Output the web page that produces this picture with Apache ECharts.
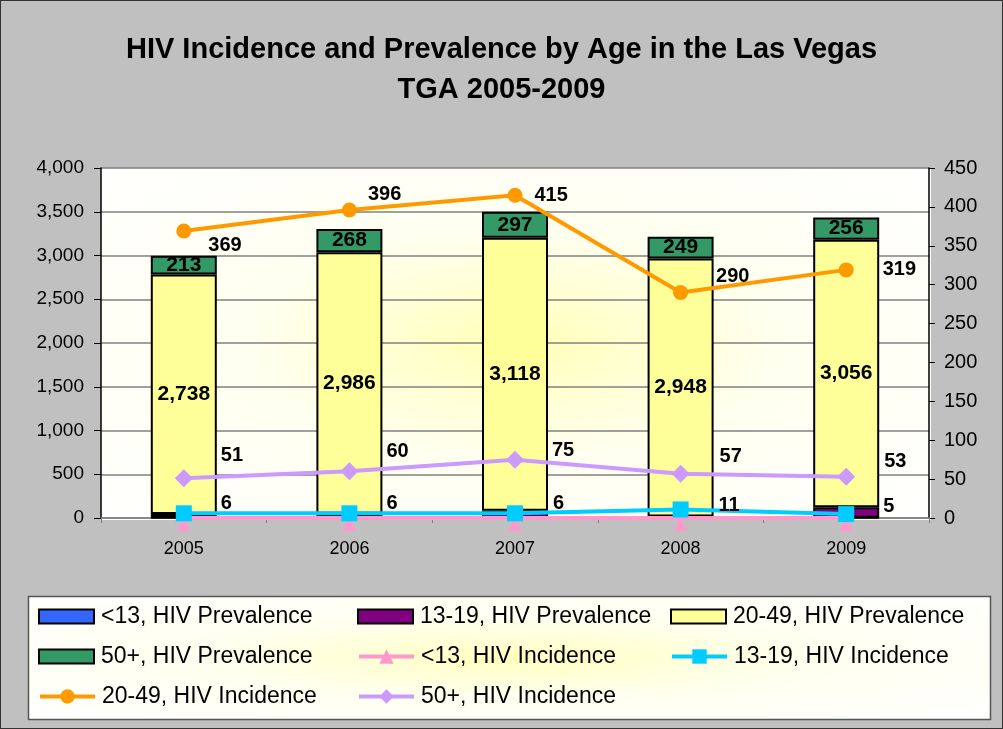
<!DOCTYPE html>
<html>
<head>
<meta charset="utf-8">
<script src="https://cdn.jsdelivr.net/npm/echarts@6/dist/echarts.min.js"></script>
<style>
  html, body { margin: 0; padding: 0; background: #fff; }
  #chart-container { width: 1001px; height: 727px; border: 1px solid #333; }
</style>
</head>
<body>
<div id="chart-container"></div>
<script>
var years = ['2005', '2006', '2007', '2008', '2009'];

// prevalence (left axis, stacked bars)
var prevUnder13 = [5, 5, 4, 3, 3];
var prev13to19 = [40, 45, 80, 15, 120];
var prev20to49 = [2738, 2986, 3118, 2948, 3056];
var prev50plus = [213, 268, 297, 249, 256];

// incidence (right axis, lines)
var incUnder13 = [0, 0, 0, 0, 0];
var inc13to19 = [6, 6, 6, 11, 5];
var inc20to49 = [369, 396, 415, 290, 319];
var inc50plus = [51, 60, 75, 57, 53];

var leftTicks = { min: 0, max: 4000, interval: 500 };
var rightTicks = { min: 0, max: 450, interval: 50 };

var dom = document.getElementById('chart-container');
var myChart = echarts.init(dom, null, { renderer: 'canvas' });

var FONT = '"Liberation Sans", Arial, sans-serif';

// plot area box (matches grid below)
var plot = { left: 100, top: 167, right: 930, bottom: 519 };

var barLabel = {
  show: true,
  position: 'inside',
  color: '#000',
  fontFamily: FONT,
  fontWeight: 'bold',
  fontSize: 21,
  formatter: function (p) { return p.value.toLocaleString('en-US'); }
};

var lineLabel = {
  show: true,
  position: 'right',
  distance: 0,
  color: '#000',
  fontFamily: FONT,
  fontWeight: 'bold',
  fontSize: 20
};

// label nudges per point, so they sit like in the original
function withOffsets(values, offsets) {
  return values.map(function (v, i) {
    return { value: v, label: { offset: offsets[i] } };
  });
}

var offs13to19 = [[29, -10], [29, -10], [30, -10], [30, -4], [29, -8]];
var offs20to49 = [[17, 14], [11, -16], [12, 0], [28, -16], [29, 0]];
var offs50plus = [[28, -23], [28, -20], [28, -9], [30, -17], [29, -15]];

var legendNames = [
  '<13, HIV Prevalence', '13-19, HIV Prevalence', '20-49, HIV Prevalence',
  '50+, HIV Prevalence', '<13, HIV Incidence', '13-19, HIV Incidence',
  '20-49, HIV Incidence', '50+, HIV Incidence'
];
var colX = [37, 356, 669];
var rowY = [604, 644, 684];

var legends = legendNames.map(function (n, i) {
  var isBar = i < 4;
  return {
    data: [isBar ? { name: n, icon: 'rect' } : n],
    left: colX[i % 3],
    top: rowY[Math.floor(i / 3)],
    padding: 0,
    itemWidth: 55,
    itemHeight: isBar ? 14 : 18,
    itemStyle: isBar ? { borderColor: '#000', borderWidth: 2 } : {},
    lineStyle: { width: 4 },
    textStyle: { fontFamily: FONT, fontSize: 23, color: '#000', padding: [0, 0, 0, 2] },
    selectedMode: false
  };
});

// elliptical glow: square rect scaled vertically
function glowRect(x, y, w, h, inner) {
  return {
    type: 'rect',
    x: x, y: y,
    scaleY: h / w,
    shape: { x: 0, y: 0, width: w, height: w },
    style: {
      fill: new echarts.graphic.RadialGradient(0.5, 0.5, 0.72, [
        { offset: 0, color: inner }, { offset: 0.45, color: '#fffff0' }, { offset: 1, color: '#ffffff' }
      ])
    },
    silent: true,
    z: -10
  };
}

var option = {
  backgroundColor: '#c0c0c0',
  animation: false,
  title: {
    text: 'HIV Incidence and Prevalence by Age in the Las Vegas\nTGA 2005-2009',
    left: 'center',
    top: 24,
    textStyle: { fontFamily: FONT, fontWeight: 'bold', fontSize: 29, lineHeight: 40, color: '#000' }
  },
  graphic: [
    glowRect(plot.left, plot.top, plot.right - plot.left, plot.bottom - plot.top, '#ffffb8'),
    glowRect(28, 596, 961, 122, '#ffffc0'),
    {
      type: 'rect',
      shape: { x: 27.5, y: 595.5, width: 962, height: 123 },
      style: { fill: null, stroke: '#555', lineWidth: 1.5 },
      silent: true,
      z: -5
    }
  ],
  legend: legends,
  grid: {
    left: plot.left, right: 1003 - plot.right, top: plot.top, bottom: 729 - plot.bottom,
    show: false
  },
  xAxis: {
    type: 'category',
    data: years,
    axisLine: { lineStyle: { color: '#808080', width: 1.5 } },
    axisTick: { show: true, length: 5, lineStyle: { color: '#808080' } },
    axisLabel: { fontFamily: FONT, fontSize: 18, color: '#000', margin: 22 }
  },
  yAxis: [{
    type: 'value',
    min: leftTicks.min, max: leftTicks.max, interval: leftTicks.interval,
    axisLine: { show: true, lineStyle: { color: '#000', width: 1.5 } },
    axisTick: { show: true, length: 7, lineStyle: { color: '#000' } },
    splitLine: { lineStyle: { color: '#808080', width: 1.5 } },
    axisLabel: {
      fontFamily: FONT, fontSize: 19, color: '#000', margin: 17,
      formatter: function (v) { return v.toLocaleString('en-US'); }
    }
  }, {
    type: 'value',
    min: rightTicks.min, max: rightTicks.max, interval: rightTicks.interval,
    axisLine: { show: true, lineStyle: { color: '#000', width: 1.5 } },
    axisTick: { show: true, length: 6, lineStyle: { color: '#000' } },
    splitLine: { show: false },
    axisLabel: { fontFamily: FONT, fontSize: 20, color: '#000', margin: 15 }
  }],
  series: [
    {
      name: '<13, HIV Prevalence', type: 'bar', stack: 'prev', data: prevUnder13,
      barWidth: 66,
      itemStyle: { color: '#3366ff', borderColor: '#000', borderWidth: 2 }
    },
    {
      name: '13-19, HIV Prevalence', type: 'bar', stack: 'prev', data: prev13to19,
      itemStyle: { color: '#800080', borderColor: '#000', borderWidth: 2 }
    },
    {
      name: '20-49, HIV Prevalence', type: 'bar', stack: 'prev', data: prev20to49,
      itemStyle: { color: '#ffff99', borderColor: '#000', borderWidth: 2 },
      label: barLabel
    },
    {
      name: '50+, HIV Prevalence', type: 'bar', stack: 'prev', data: prev50plus,
      itemStyle: { color: '#339966', borderColor: '#000', borderWidth: 2 },
      label: barLabel
    },
    {
      name: '<13, HIV Incidence', type: 'line', yAxisIndex: 1, data: incUnder13,
      symbol: 'triangle', symbolSize: 14, symbolOffset: [0, 6],
      lineStyle: { color: '#ff99cc', width: 4 },
      itemStyle: { color: '#ff99cc' }
    },
    {
      name: '13-19, HIV Incidence', type: 'line', yAxisIndex: 1,
      data: withOffsets(inc13to19, offs13to19),
      symbol: 'rect', symbolSize: 16,
      lineStyle: { color: '#00ccff', width: 4 },
      itemStyle: { color: '#00ccff' },
      label: lineLabel
    },
    {
      name: '20-49, HIV Incidence', type: 'line', yAxisIndex: 1,
      data: withOffsets(inc20to49, offs20to49),
      symbol: 'circle', symbolSize: 15,
      lineStyle: { color: '#ff9900', width: 4 },
      itemStyle: { color: '#ff9900' },
      label: lineLabel
    },
    {
      name: '50+, HIV Incidence', type: 'line', yAxisIndex: 1,
      data: withOffsets(inc50plus, offs50plus),
      symbol: 'diamond', symbolSize: 18,
      lineStyle: { color: '#cc99ff', width: 4 },
      itemStyle: { color: '#cc99ff' },
      label: lineLabel
    }
  ]
};

myChart.setOption(option);
window.addEventListener('resize', myChart.resize);
</script>
</body>
</html>
